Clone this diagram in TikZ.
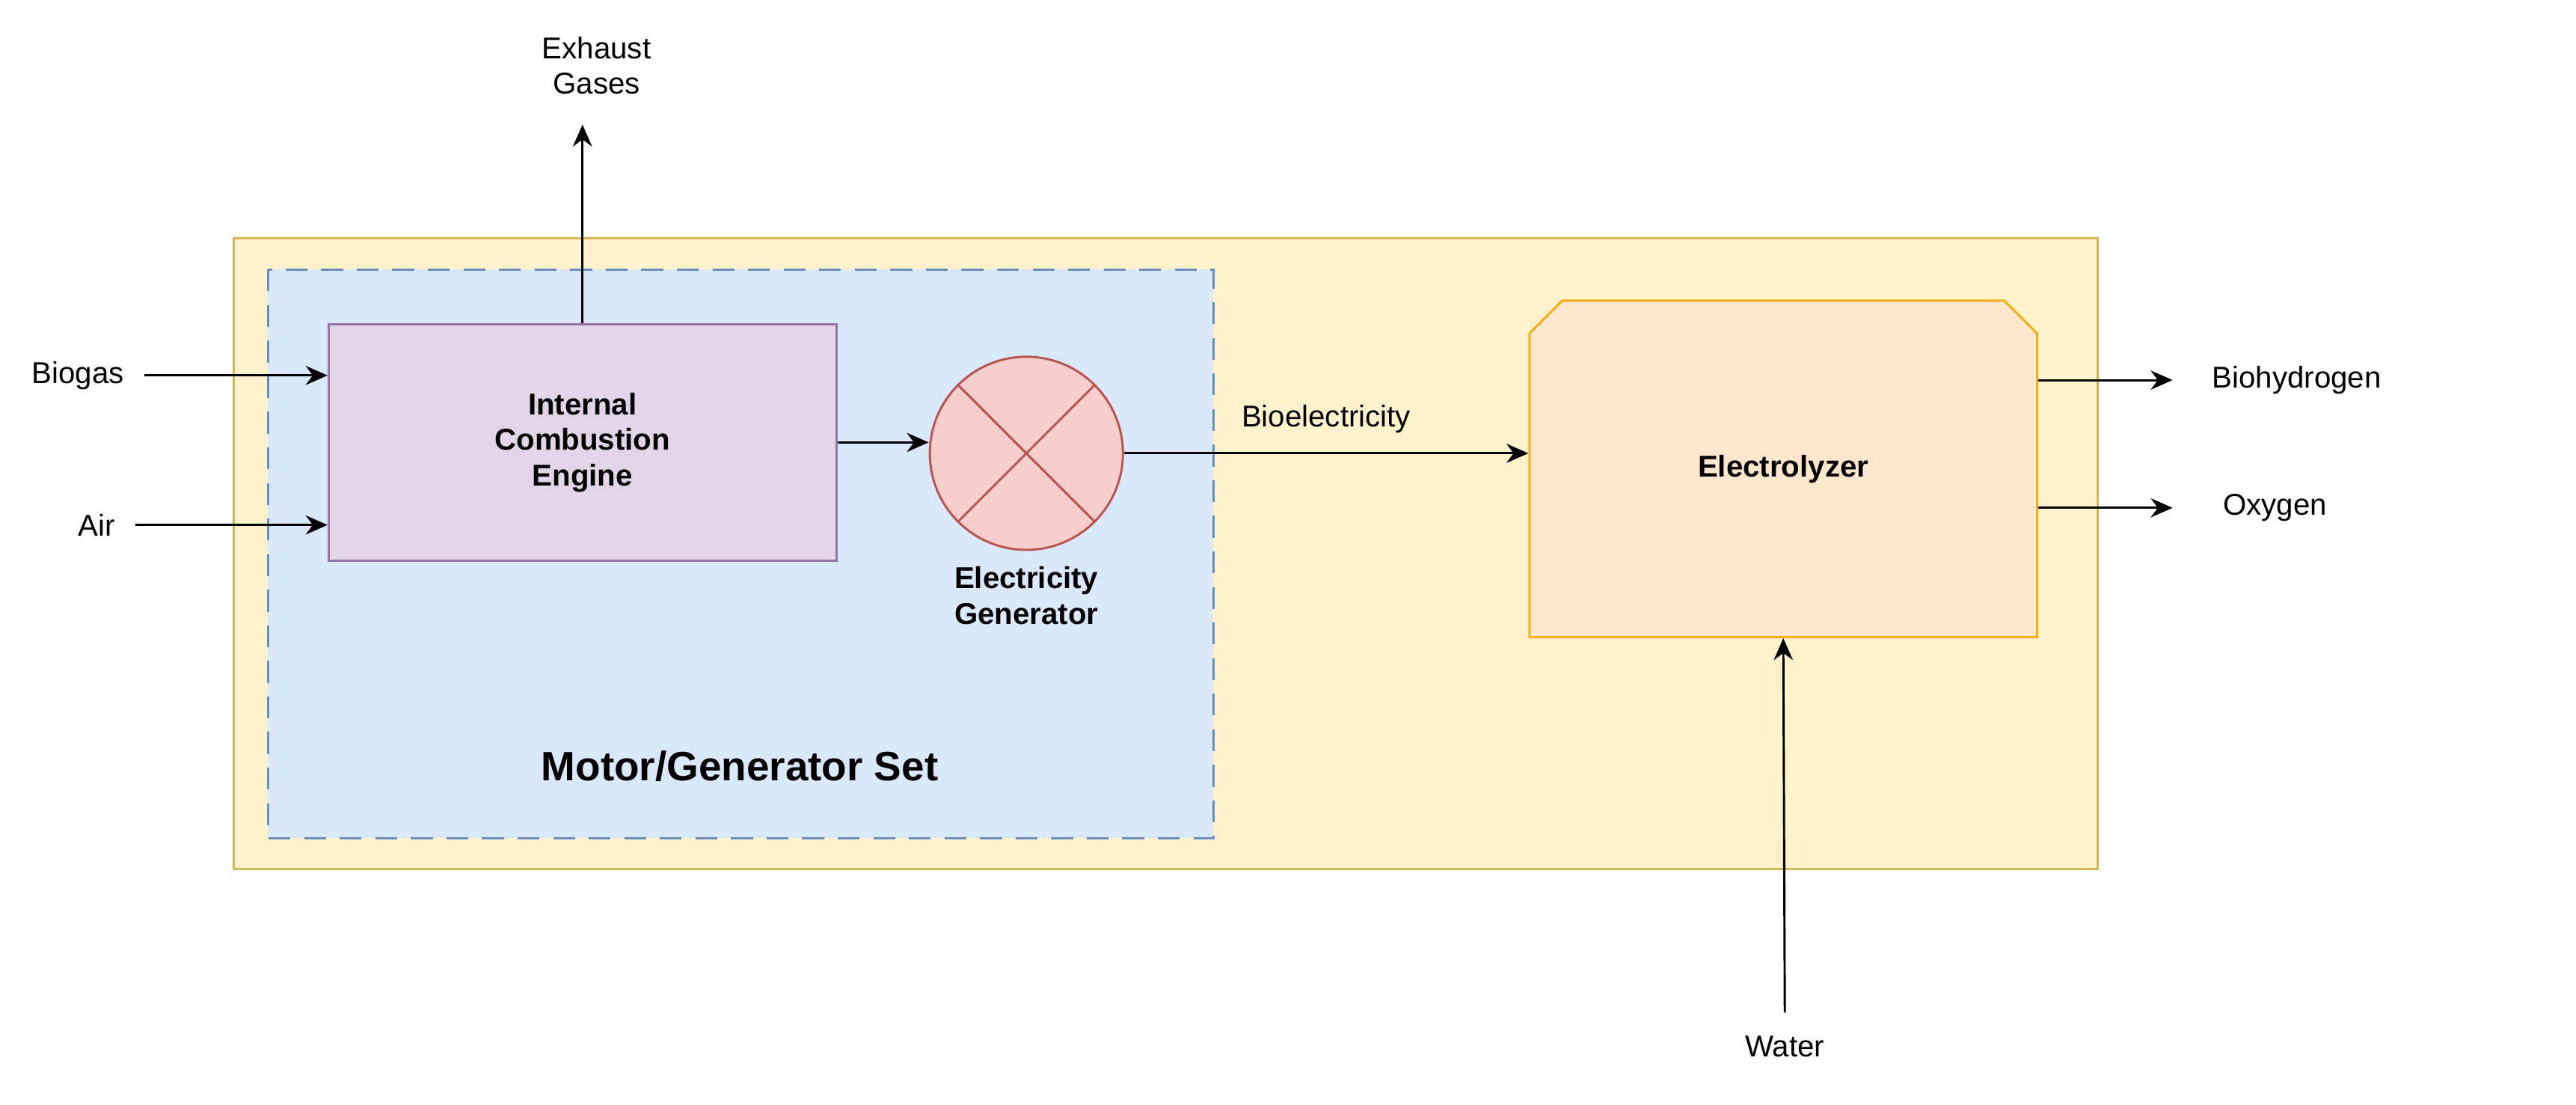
\documentclass[tikz,border=0pt]{standalone}
\usepackage{fontspec}
\setmainfont{Liberation Sans}
\usetikzlibrary{arrows.meta}
\usetikzlibrary{positioning}
\usetikzlibrary{shapes.misc}
\definecolor{plantfill}{HTML}{FFF2CC}
\definecolor{plantline}{HTML}{D6B656}
\definecolor{setfill}{HTML}{DAE8FC}
\definecolor{setline}{HTML}{6C8EBF}
\definecolor{icefill}{HTML}{E1D5E7}
\definecolor{iceline}{HTML}{9673A6}
\definecolor{genfill}{HTML}{F8CECC}
\definecolor{genline}{HTML}{B85450}
\definecolor{elyfill}{HTML}{FFE6CC}
\definecolor{elyline}{HTML}{F5AD1B}
\begin{document}
\begin{tikzpicture}[x=0.02cm,y=-0.02cm,
                    >={Stealth[length=8pt,width=7pt]},
                    thick,
                    lbl/.style={font=\fontsize{11}{13}\selectfont,align=center,inner sep=1pt},
                    blk/.style={font=\fontsize{11}{13}\selectfont\bfseries,align=center}
                    ]
  \useasboundingbox (0,0) rectangle (1654,709);
  % plant and motor/generator set
  \draw[plantline,fill=plantfill,thick] (150,153) rectangle (1347,558);
  \draw[setline,fill=setfill,thick,dash pattern=on 8pt off 5pt] (172,173) rectangle (779,538);
  \node[font=\fontsize{15}{18}\selectfont\bfseries] (mgs) at (475,492) {Motor/Generator Set};
  % blocks
  \node[draw=iceline,fill=icefill,blk,minimum width=6.52cm,minimum height=3.04cm] (ice) at (374,284) {Internal\\Combustion\\Engine};
  \node[circle,draw=genline,fill=genfill,minimum size=2.48cm,inner sep=0pt] (gen) at (659,291) {};
  \draw[genline] (gen.45) -- (gen.225) (gen.135) -- (gen.315);
  \node[blk,below=2pt of gen] (genl) {Electricity\\Generator};
  \node[chamfered rectangle,chamfered rectangle corners={north west,north east},chamfered rectangle xsep=0.5cm,
        draw=elyline,fill=elyfill,blk,minimum width=6.52cm,minimum height=4.32cm] (ely) at (1145,301) {Electrolyzer};
  % free ends
  \node[lbl] (biogas) at (50,241) {Biogas};
  \node[lbl] (air) at (62,337) {Air};
  \node[lbl] (exh) at (383,42) {Exhaust\\Gases};
  \node[lbl,anchor=west] (bioh) at (1418,244) {Biohydrogen};
  \node[lbl,anchor=west] (oxy) at (1425,326) {Oxygen};
  \node[lbl] (water) at (1146,672) {Water};
  \coordinate (bh) at (1395,244);
  \coordinate (ox) at (1395,326);
  \coordinate (wt) at (1146,650);
  \coordinate (ex) at (374,80);
  \coordinate (shaft) at (0,284);
  % connectors
  \draw[->] ([xshift=6pt]biogas.east) -- (ice.west |- biogas);
  \draw[->] ([xshift=6pt]air.east) -- (ice.west |- air);
  \draw[->] (ice.north) -- (ex);
  \draw[->] (ice.east |- shaft) -- (gen.west |- shaft);
  \draw[->] (gen.east) -- node[lbl,above=6pt] {Bioelectricity} (ely.west |- gen.east);
  \draw[->] (ely.east |- bh) -- (bh);
  \draw[->] (ely.east |- ox) -- (ox);
  \draw[->] (wt) -- (ely.south);
\end{tikzpicture}
\end{document}
